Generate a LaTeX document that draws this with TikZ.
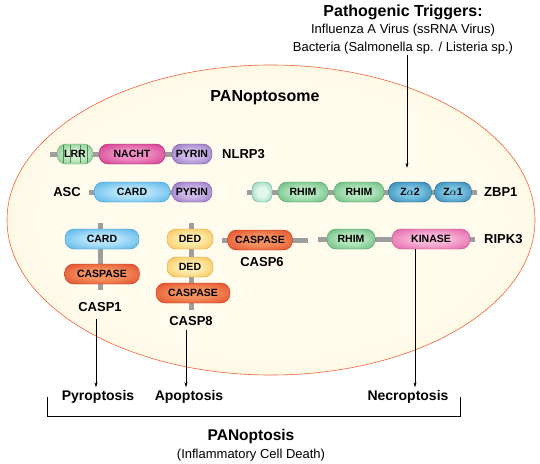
\documentclass[tikz,border=0pt]{standalone}
\usepackage{fontspec}
\setmainfont{Liberation Sans}
\usetikzlibrary{arrows.meta}

\definecolor{cellrim}{RGB}{240,100,60}
\definecolor{cellin}{RGB}{255,252,238}
\definecolor{cellout}{RGB}{252,222,160}
\definecolor{backbone}{RGB}{158,158,158}

% domain colours: rim (Lo) and glow (Hi)
\definecolor{lrrLo}{RGB}{100,185,110}    \definecolor{lrrHi}{RGB}{205,238,205}
\definecolor{nachtLo}{RGB}{195,30,120}   \definecolor{nachtHi}{RGB}{240,140,195}
\definecolor{pyrinLo}{RGB}{130,90,180}   \definecolor{pyrinHi}{RGB}{205,185,232}
\definecolor{cardLo}{RGB}{55,165,228}    \definecolor{cardHi}{RGB}{178,226,250}
\definecolor{dedLo}{RGB}{246,180,60}     \definecolor{dedHi}{RGB}{255,236,170}
\definecolor{caspLo}{RGB}{218,55,25}     \definecolor{caspHi}{RGB}{246,145,95}
\definecolor{rhimLo}{RGB}{75,170,100}    \definecolor{rhimHi}{RGB}{180,230,190}
\definecolor{zalphaLo}{RGB}{25,110,160}  \definecolor{zalphaHi}{RGB}{120,195,226}
\definecolor{kinaseLo}{RGB}{220,70,150}  \definecolor{kinaseHi}{RGB}{248,180,215}
\definecolor{ntermLo}{RGB}{110,195,160}  \definecolor{ntermHi}{RGB}{225,248,238}

\colorlet{domlo}{gray}
\colorlet{domhi}{white}
\pgfdeclareradialshading{cellglow}{\pgfpoint{0bp}{0bp}}{color(0bp)=(cellin); color(22bp)=(cellin); color(50bp)=(cellout)}
\pgfdeclareradialshading[domlo,domhi]{glow}{\pgfpoint{0bp}{0bp}}{color(0bp)=(domhi); color(12bp)=(domhi); color(42bp)=(domlo); color(50bp)=(domlo)}

\tikzset{
  dom/.style={rounded corners=9pt, minimum height=20pt, inner sep=1pt,
    font=\bfseries\fontsize{10.5}{12}\selectfont,
    /utils/exec={\colorlet{domlo}{#1Lo}\colorlet{domhi}{#1Hi}},
    shading=glow, draw=#1Lo!85!black, line width=0.3pt},
  stem/.style={draw=backbone, line width=5pt},
  protein/.style={font=\bfseries\fontsize{13}{15}\selectfont, inner sep=1pt},
  fate/.style={font=\bfseries\fontsize{14}{16}\selectfont, inner sep=1pt},
  link/.style={-{Stealth[length=5pt,width=3pt]}, line width=0.5pt}
}

\begin{document}
\begin{tikzpicture}[x=1pt, y=-1pt]
  \useasboundingbox (0,0) rectangle (540,463);

  % cell
  \path[shading=cellglow] (271,220) ellipse [x radius=264pt, y radius=155pt];
  \draw[cellrim, line width=0.6pt] (271,220) ellipse [x radius=264pt, y radius=155pt];
  \node[font=\bfseries\fontsize{16}{18}\selectfont] (title) at (265,98) {PANoptosome};

  % triggers
  \node[font=\bfseries\fontsize{16}{18}\selectfont] (trig) at (403,12) {Pathogenic Triggers:};
  \node[font=\fontsize{13}{15}\selectfont] (flu) at (403,30) {Influenza A Virus (ssRNA Virus)};
  \node[font=\fontsize{13}{15}\selectfont, inner sep=1pt] (bac) at (403,48) {Bacteria (Salmonella sp. / Listeria sp.)};

  % backbones
  \coordinate (n3) at (50,154);
  \coordinate (as) at (89,192);
  \coordinate (zb) at (247,192);
  \coordinate (zbe) at (477,192);
  \coordinate (rk) at (318,239);
  \coordinate (rke) at (475,239);
  \coordinate (c6) at (222,240);
  \coordinate (c6e) at (308,240);
  \coordinate (c1) at (100,223);
  \coordinate (c1e) at (100,290);
  \coordinate (c8) at (191,223);
  \coordinate (c8e) at (191,310);
  \draw[stem] (n3) -- (172,154);
  \draw[stem] (as) -- (172,192);
  \draw[stem] (zb) -- (zbe);
  \draw[stem] (rk) -- (rke);
  \draw[stem] (c6) -- (c6e);
  \draw[stem] (c1) -- (c1e);
  \draw[stem] (c8) -- (c8e);

  % NLRP3
  \node[dom=lrr, minimum width=36pt] (lrr) at (75,154) {};
  \foreach \x in {63,70,80,87}
    \draw[lrrLo!75!black, line width=0.4pt] (\x,145) -- (\x,163);
  \node[font=\bfseries\fontsize{10.5}{12}\selectfont] at (lrr) {LRR};
  \node[dom=nacht, minimum width=66pt] (nacht) at (132,154) {NACHT};
  \node[dom=pyrin, minimum width=40pt] (pyrin1) at (192,154) {PYRIN};
  \node[protein, anchor=west] (nlrp3) at (221,154) {NLRP3};

  % ASC
  \node[protein] (asc) at (67,192) {ASC};
  \node[dom=card, minimum width=76pt] (card1) at (132,192) {CARD};
  \node[dom=pyrin, minimum width=40pt] (pyrin2) at (192,192) {PYRIN};

  % ZBP1
  \node[dom=nterm, minimum width=20pt, rounded corners=7pt] (nterm) at (262,192) {};
  \node[dom=rhim, minimum width=50pt] (rhim1) at (303,192) {RHIM};
  \node[dom=rhim, minimum width=50pt] (rhim2) at (359,192) {RHIM};
  \node[dom=zalpha, minimum width=43pt] (za2) at (410,192) {Z$\alpha$2};
  \node[dom=zalpha, minimum width=37pt] (za1) at (453,192) {Z$\alpha$1};
  \node[protein, anchor=west] (zbp1) at (483,192) {ZBP1};

  % RIPK3
  \node[dom=rhim, minimum width=48pt] (rhim3) at (351,239) {RHIM};
  \node[dom=kinase, minimum width=78pt] (kinase) at (431,239) {KINASE};
  \node[protein, anchor=west] (ripk3) at (483,239) {RIPK3};

  % CASP6
  \node[dom=casp, minimum width=65pt] (casp6d) at (260,240) {CASPASE};
  \node[protein] (casp6) at (262,262) {CASP6};

  % CASP1
  \node[dom=card, minimum width=74pt] (card2) at (102,239) {CARD};
  \node[dom=casp, minimum width=75pt] (casp1d) at (102,274) {CASPASE};
  \node[protein] (casp1) at (100,307) {CASP1};

  % CASP8
  \node[dom=ded, minimum width=46pt] (ded1) at (190,239) {DED};
  \node[dom=ded, minimum width=46pt] (ded2) at (190,267) {DED};
  \node[dom=casp, minimum width=74pt] (casp8d) at (193,293) {CASPASE};
  \node[protein] (casp8) at (191,321) {CASP8};

  % cell fates
  \node[fate] (pyro) at (98,397) {Pyroptosis};
  \node[fate] (apo) at (189,397) {Apoptosis};
  \node[fate] (necro) at (408,397) {Necroptosis};

  % arrows
  \draw[link, shorten >=14pt] (bac.south -| za2.north) ++(-3,0) coordinate (tstart) -- (tstart |- za2.north);
  \draw[link, shorten <=6pt, shorten >=2pt] (casp1.south -| 96,0) -- (96,0 |- pyro.north);
  \draw[link, shorten <=3pt, shorten >=2pt] (casp8.south -| 186,0) -- (186,0 |- apo.north);
  \draw[link, shorten >=2pt] (kinase.south -| 415,0) -- (415,0 |- necro.north);

  % bracket
  \coordinate (bl) at (47,397);
  \coordinate (br) at (460,397);
  \draw[line width=0.8pt] (bl) -- ++(0,19) -| (br);
  \node[font=\bfseries\fontsize{15.5}{18}\selectfont] (pan) at (251,436) {PANoptosis};
  \node[font=\fontsize{13}{15}\selectfont] (death) at (251,455) {(Inflammatory Cell Death)};
\end{tikzpicture}
\end{document}
